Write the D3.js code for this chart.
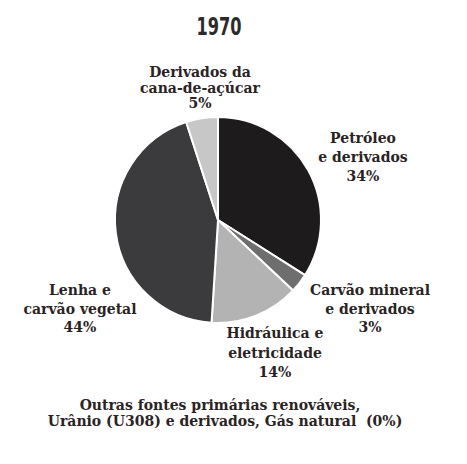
<!DOCTYPE html>
<html>
<head>
<meta charset="utf-8">
<script src="https://cdn.jsdelivr.net/npm/d3@7"></script>
<style>
  body { margin: 0; background: #fff; }
</style>
</head>
<body>
<div id="chart"></div>
<script>
// 1970 energy matrix
var title = "1970"
var categories = ["Petróleo e derivados", "Carvão mineral e derivados", "Hidráulica e eletricidade", "Lenha e carvão vegetal", "Derivados da cana-de-açúcar"]
var values = [34, 3, 14, 44, 5]
var labelLines = [
  ["Petróleo", "e derivados", "34%"],
  ["Carvão mineral", "e derivados", "3%"],
  ["Hidráulica e", "eletricidade", "14%"],
  ["Lenha e", "carvão vegetal", "44%"],
  ["Derivados da", "cana-de-açúcar", "5%"]
]
var footnote = ["Outras fontes primárias renováveis,", "Urânio (U308) e derivados, Gás natural\u00a0 (0%)"]

var width = 467, height = 464
var cx = 218, cy = 220, radius = 103
var serif = '"DejaVu Serif"'

var color = d3.scaleOrdinal().domain(categories)
  .range(["#1d1b1c", "#6e6e6e", "#b3b3b3", "#3b3b3d", "#c7c7c7"])

// label anchors (middle of first line baseline), by hand
var labelPos = [[363, 143], [370, 295], [275, 338], [80, 295], [200, 77]]

var svg = d3.select('#chart').append('svg').attr('width', width).attr('height', height)

svg.append('text')
  .attr('x', 219).attr('y', 35)
  .attr('text-anchor', 'middle')
  .style('font-family', '"DejaVu Sans Condensed", "DejaVu Sans", sans-serif')
  .style('font-weight', 'bold')
  .style('font-size', '25px')
  .style('fill', '#2b2b2b')
  .attr('textLength', 45).attr('lengthAdjust', 'spacingAndGlyphs')
  .text(title)

var pie = d3.pie().sort(null).value(function(d, i) { return values[i] })
var arc = d3.arc().innerRadius(0).outerRadius(radius)

var g = svg.append('g').attr('transform', 'translate(' + cx + ',' + cy + ')')
g.selectAll('path')
  .data(pie(categories)).join('path')
  .attr('d', arc)
  .attr('fill', function(d) { return color(d.data) })
  .attr('stroke', '#fff')
  .attr('stroke-width', 2)
  .attr('stroke-linejoin', 'round')

var lineH = [19, 18.5, 19.5, 18.5, 15.5]
labelLines.forEach(function(lines, i) {
  var t = svg.append('text')
    .attr('text-anchor', 'middle')
    .style('font-family', serif)
    .style('font-weight', 'bold')
    .style('font-size', '14px')
    .style('fill', '#2a2324')
  lines.forEach(function(s, j) {
    t.append('tspan').attr('x', labelPos[i][0]).attr('y', labelPos[i][1] + j * lineH[i]).text(s)
  })
})

var fy = [410, 426]
footnote.forEach(function(s, j) {
  svg.append('text')
    .attr('x', j == 0 ? 220 : 225).attr('y', fy[j])
    .attr('text-anchor', 'middle')
    .style('font-family', serif)
    .style('font-weight', 'bold')
    .style('font-size', '14px')
    .style('fill', '#2a2324')
    .text(s)
})
</script>
</body>
</html>
